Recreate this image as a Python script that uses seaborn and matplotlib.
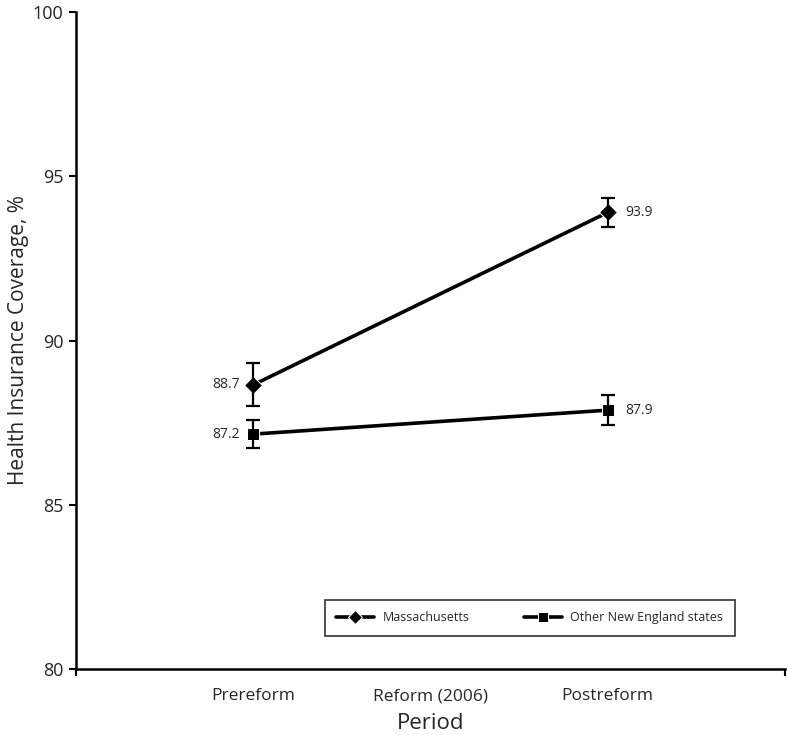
import pandas as pd
import matplotlib.pyplot as plt
import seaborn as sns

periods = ["Prereform", "Reform (2006)", "Postreform"]
states = ["Massachusetts", "Other New England states"]
obs_periods = ["Prereform", "Postreform"]
ma_values = [88.65, 93.9]
ma_err = [0.65, 0.45]
ne_values = [87.15, 87.88]
ne_err = [0.42, 0.45]
ma_labels = ["88.7", "93.9"]
ne_labels = ["87.2", "87.9"]

pos = {p: i for i, p in enumerate(periods)}
df = pd.DataFrame({
    "period": obs_periods * 2,
    "state": [states[0]] * 2 + [states[1]] * 2,
    "coverage": ma_values + ne_values,
    "err": ma_err + ne_err,
    "label": ma_labels + ne_labels,
})
df["x"] = df["period"].map(pos)

sns.set_theme(style="white")
plt.rcParams["font.family"] = ["Open Sans", "DejaVu Sans"]

fig = plt.figure(figsize=(7.87, 7.35), dpi=100)
ax = fig.add_axes([76 / 787, 66 / 735, 709 / 787, 657 / 735])

sns.lineplot(data=df, x="x", y="coverage", style="state", markers={states[0]: "D", states[1]: "s"},
             dashes=False, color="black", linewidth=2.6, markersize=9, ax=ax, legend=True)
for _, r in df.iterrows():
    ax.errorbar(r.x, r.coverage, yerr=r.err, color="black", capsize=5, elinewidth=1.6,
                capthick=1.6, fmt="none")
    if r.x == 0:
        ax.text(r.x - 0.075, r.coverage, r.label, ha="right", va="center", fontsize=10)
    else:
        ax.text(r.x + 0.1, r.coverage, r.label, ha="left", va="center", fontsize=10)

ax.set_xlim(-1, 3)
ax.set_ylim(80, 100)
ax.set_yticks([80, 85, 90, 95, 100])
ax.set_xticks([0, 1, 2])
ax.set_xticklabels(periods)
ax.set_xticks([-1, 1, 3], minor=True)
ax.tick_params(axis="x", which="major", length=0, labelsize=12.5, pad=14)
ax.tick_params(axis="x", which="minor", length=5, width=1.5, color="black", bottom=True)
ax.tick_params(axis="y", length=5, width=1.5, color="black", left=True, labelsize=13, pad=4)
for s in ["top", "right"]:
    ax.spines[s].set_visible(False)
for s in ["left", "bottom"]:
    ax.spines[s].set_color("black")
    ax.spines[s].set_linewidth(1.8)
ax.set_xlabel("Period", fontsize=16, labelpad=6)
ax.set_ylabel("Health Insurance Coverage, %", fontsize=15)
ax.yaxis.set_label_coords(-0.066, 0.5)

leg = ax.legend(loc="upper left", bbox_to_anchor=(0.351, 0.105), borderaxespad=0,
                ncol=2, frameon=True, fancybox=False, edgecolor="black", fontsize=9,
                handlelength=3.0, handletextpad=0.7, columnspacing=4.4, borderpad=0.9)
leg.get_frame().set_linewidth(1.2)
for h in leg.legend_handles:
    h.set_color("black")
    h.set_markersize(7)

fig.savefig("out.png", dpi=100)
